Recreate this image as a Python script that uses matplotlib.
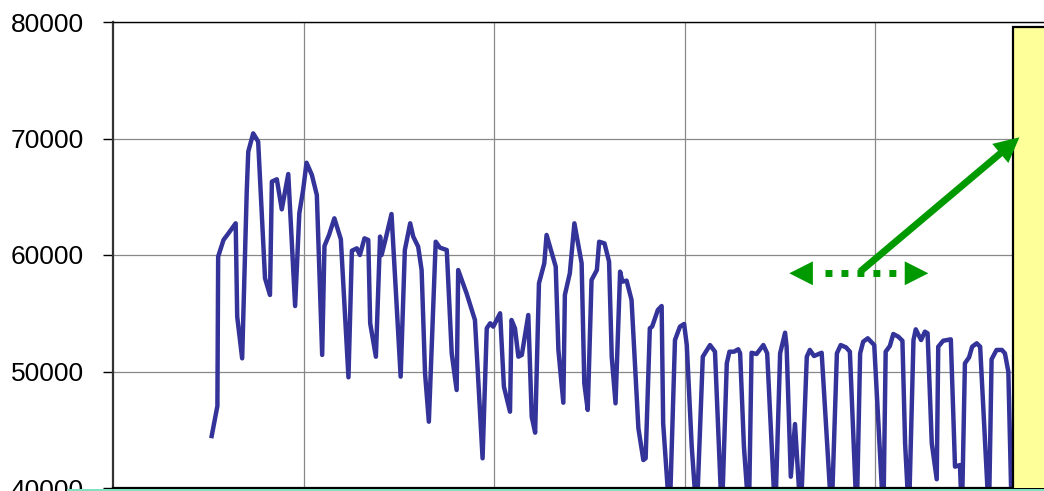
import matplotlib.pyplot as plt
from matplotlib.patches import Rectangle, FancyArrowPatch

plt.rcParams['font.family'] = ['Liberation Sans', 'DejaVu Sans']

# daily series (day number, value); dips below 40000 are cut by the axis
days = [25.9, 27.4, 27.6, 29.0, 30.3, 32.2, 32.6, 33.9, 35.1, 35.5, 36.8, 38.1,
        39.9, 41.2, 41.7, 43.0, 44.3, 46.0, 47.8, 48.9, 49.9, 50.8, 52.2, 53.5,
        54.9, 55.5, 56.7, 58.1, 59.8, 61.8, 62.7, 64.0, 64.8, 66.0, 67.0, 67.5,
        69.0, 70.1, 70.5, 71.7, 73.1, 75.5, 76.6, 78.0, 78.8, 80.1, 81.0, 81.9,
        82.9, 84.7, 85.8, 87.6, 88.9, 90.2, 90.6, 92.8, 95.0, 97.0, 98.1, 99.0,
        99.8, 101.6, 102.6, 104.2, 104.6, 105.5, 106.4, 107.3, 109.0, 109.9, 110.8, 111.8,
        113.2, 113.8, 116.2, 116.9, 118.2, 118.6, 119.9, 121.1, 123.0, 123.7, 124.6, 125.6,
        127.0, 127.6, 129.0, 130.2, 130.9, 131.9, 133.1, 133.7, 134.8, 136.1, 137.9, 139.2,
        139.8, 140.9, 141.5, 143.0, 144.0, 144.4, 146.1, 147.5, 148.8, 149.9, 150.6, 151.9,
        153.2, 154.8, 156.7, 158.0, 159.8, 161.1, 161.8, 163.0, 164.1, 164.6, 165.6, 166.9,
        167.6, 168.9, 170.7, 171.7, 173.8, 175.1, 176.4, 176.8, 177.9, 179.0, 180.5, 182.1,
        182.9, 184.0, 186.0, 188.6, 190.0, 191.0, 192.4, 193.4, 195.2, 196.1, 196.9, 198.1,
        199.8, 202.2, 202.8, 203.9, 204.8, 206.1, 207.2, 207.9, 208.9, 210.1, 210.7, 212.1,
        213.1, 213.8, 214.9, 216.2, 216.6, 217.9, 219.9, 221.0, 222.3, 222.8, 223.6, 224.7,
        225.5, 226.7, 227.6, 229.9, 230.6, 231.9, 233.3, 234.1, 235.0, 235.9]
values = [44460, 47040, 59860, 61290, 61860, 62720, 54700, 51130, 65440, 68870, 70440, 69730,
          58000, 56570, 66300, 66500, 63920, 66950, 55620, 63580, 65580, 67920, 66870, 65150,
          51420, 60770, 61720, 63150, 61350, 49500, 60370, 60570, 60000, 61430, 61290, 54140,
          51270, 61580, 60000, 61580, 63520, 49560, 60430, 62720, 61580, 60710, 58710, 49850,
          45690, 61140, 60630, 60430, 51560, 48410, 58710, 56710, 54420, 42550, 53710, 54140,
          53850, 55000, 48700, 46550, 54420, 53710, 51270, 51420, 54850, 46120, 44750, 57570,
          59290, 61720, 59000, 51850, 47320, 56570, 58430, 62720, 59290, 48990, 46700, 57850,
          58710, 61140, 61000, 59430, 51270, 47270, 58570, 57710, 57800, 56140, 45120, 42400,
          42550, 53710, 53850, 55280, 55620, 45550, 37500, 52700, 53850, 54080, 52270, 43550,
          37500, 51270, 52270, 51700, 37500, 50700, 51700, 51700, 51910, 51560, 43550, 37500,
          51610, 51500, 52270, 51560, 37500, 51560, 53330, 52130, 40970, 45490, 37500, 51270,
          51850, 51330, 51610, 37500, 51560, 52270, 52070, 51700, 37500, 51560, 52560, 52850,
          52270, 37500, 51700, 52190, 53220, 52990, 52640, 43840, 37500, 52700, 53620, 52700,
          53420, 53280, 43840, 40750, 52130, 52640, 52760, 41830, 41970, 37500, 50700, 51220,
          52130, 52420, 52130, 37500, 51050, 51850, 51850, 51560, 49980, 37500]

y_ticks = [40000, 50000, 60000, 70000, 80000]
x_grid = [50, 100, 150, 200]

# annotation geometry (data units)
box_left, box_top = 236.1, 79570
solid_start, solid_tip = (196.1, 58570), (237.9, 70100)
dotted_y, dotted_left, dotted_right = 58430, 177.5, 214.0
dots_from, dots_to = 186.9, 205.8

fig = plt.figure(figsize=(10.44, 4.91), dpi=100)
ax = fig.add_axes([113 / 1044, 3 / 491, (1062 - 113) / 1044, 466 / 491])
ax.set_xlim(0, (1062 - 113) / 3.81)
ax.set_ylim(40000, 80000)

ax.plot(days, values, color='#333399', lw=3.2, zorder=2, solid_joinstyle='round')

ax.set_yticks(y_ticks)
ax.set_yticklabels([str(v) for v in y_ticks], fontsize=19)
ax.tick_params(axis='y', length=7, width=1, pad=14, direction='out')
ax.set_xticks(x_grid)
ax.tick_params(axis='x', length=0, labelbottom=False)
ax.grid(True, color='#888888', lw=0.9)
ax.set_axisbelow(True)

ax.spines['left'].set_linewidth(1.6)
ax.spines['left'].set_color('#333333')
ax.spines['bottom'].set_linewidth(1.6)
ax.spines['top'].set_linewidth(1)
ax.spines['right'].set_visible(False)

ax.add_patch(Rectangle((box_left, 30000), 100, box_top - 30000, facecolor='#ffff99',
                       edgecolor='black', lw=1.6, zorder=3))

green = '#009900'
# dotted double arrow
ax.plot([dots_from, dots_to], [dotted_y, dotted_y], color=green, lw=5,
        dashes=(1, 1.3), dash_capstyle='butt', zorder=4)
ax.add_patch(FancyArrowPatch((dotted_left, dotted_y), (dotted_right, dotted_y),
                             arrowstyle='<|-|>,head_length=17,head_width=8.6',
                             mutation_scale=1, color=green, lw=0,
                             shrinkA=0, shrinkB=0, zorder=4))
# solid arrow
sx = solid_start[0] + 0.9 * (solid_tip[0] - solid_start[0])
sy = solid_start[1] + 0.9 * (solid_tip[1] - solid_start[1])
ax.plot([solid_start[0], sx], [solid_start[1], sy], color=green, lw=5,
        solid_capstyle='butt', zorder=5)
ax.add_patch(FancyArrowPatch(solid_start, solid_tip,
                             arrowstyle='-|>,head_length=18,head_width=9',
                             mutation_scale=1, color=green, lw=0,
                             shrinkA=0, shrinkB=0, zorder=5, clip_on=False))

fig.patches.append(Rectangle((67 / 1044, 0), 1, 2.5 / 491, transform=fig.transFigure,
                             facecolor='#80e0c0', edgecolor='none', zorder=0))

fig.savefig('out.png', dpi=100)
